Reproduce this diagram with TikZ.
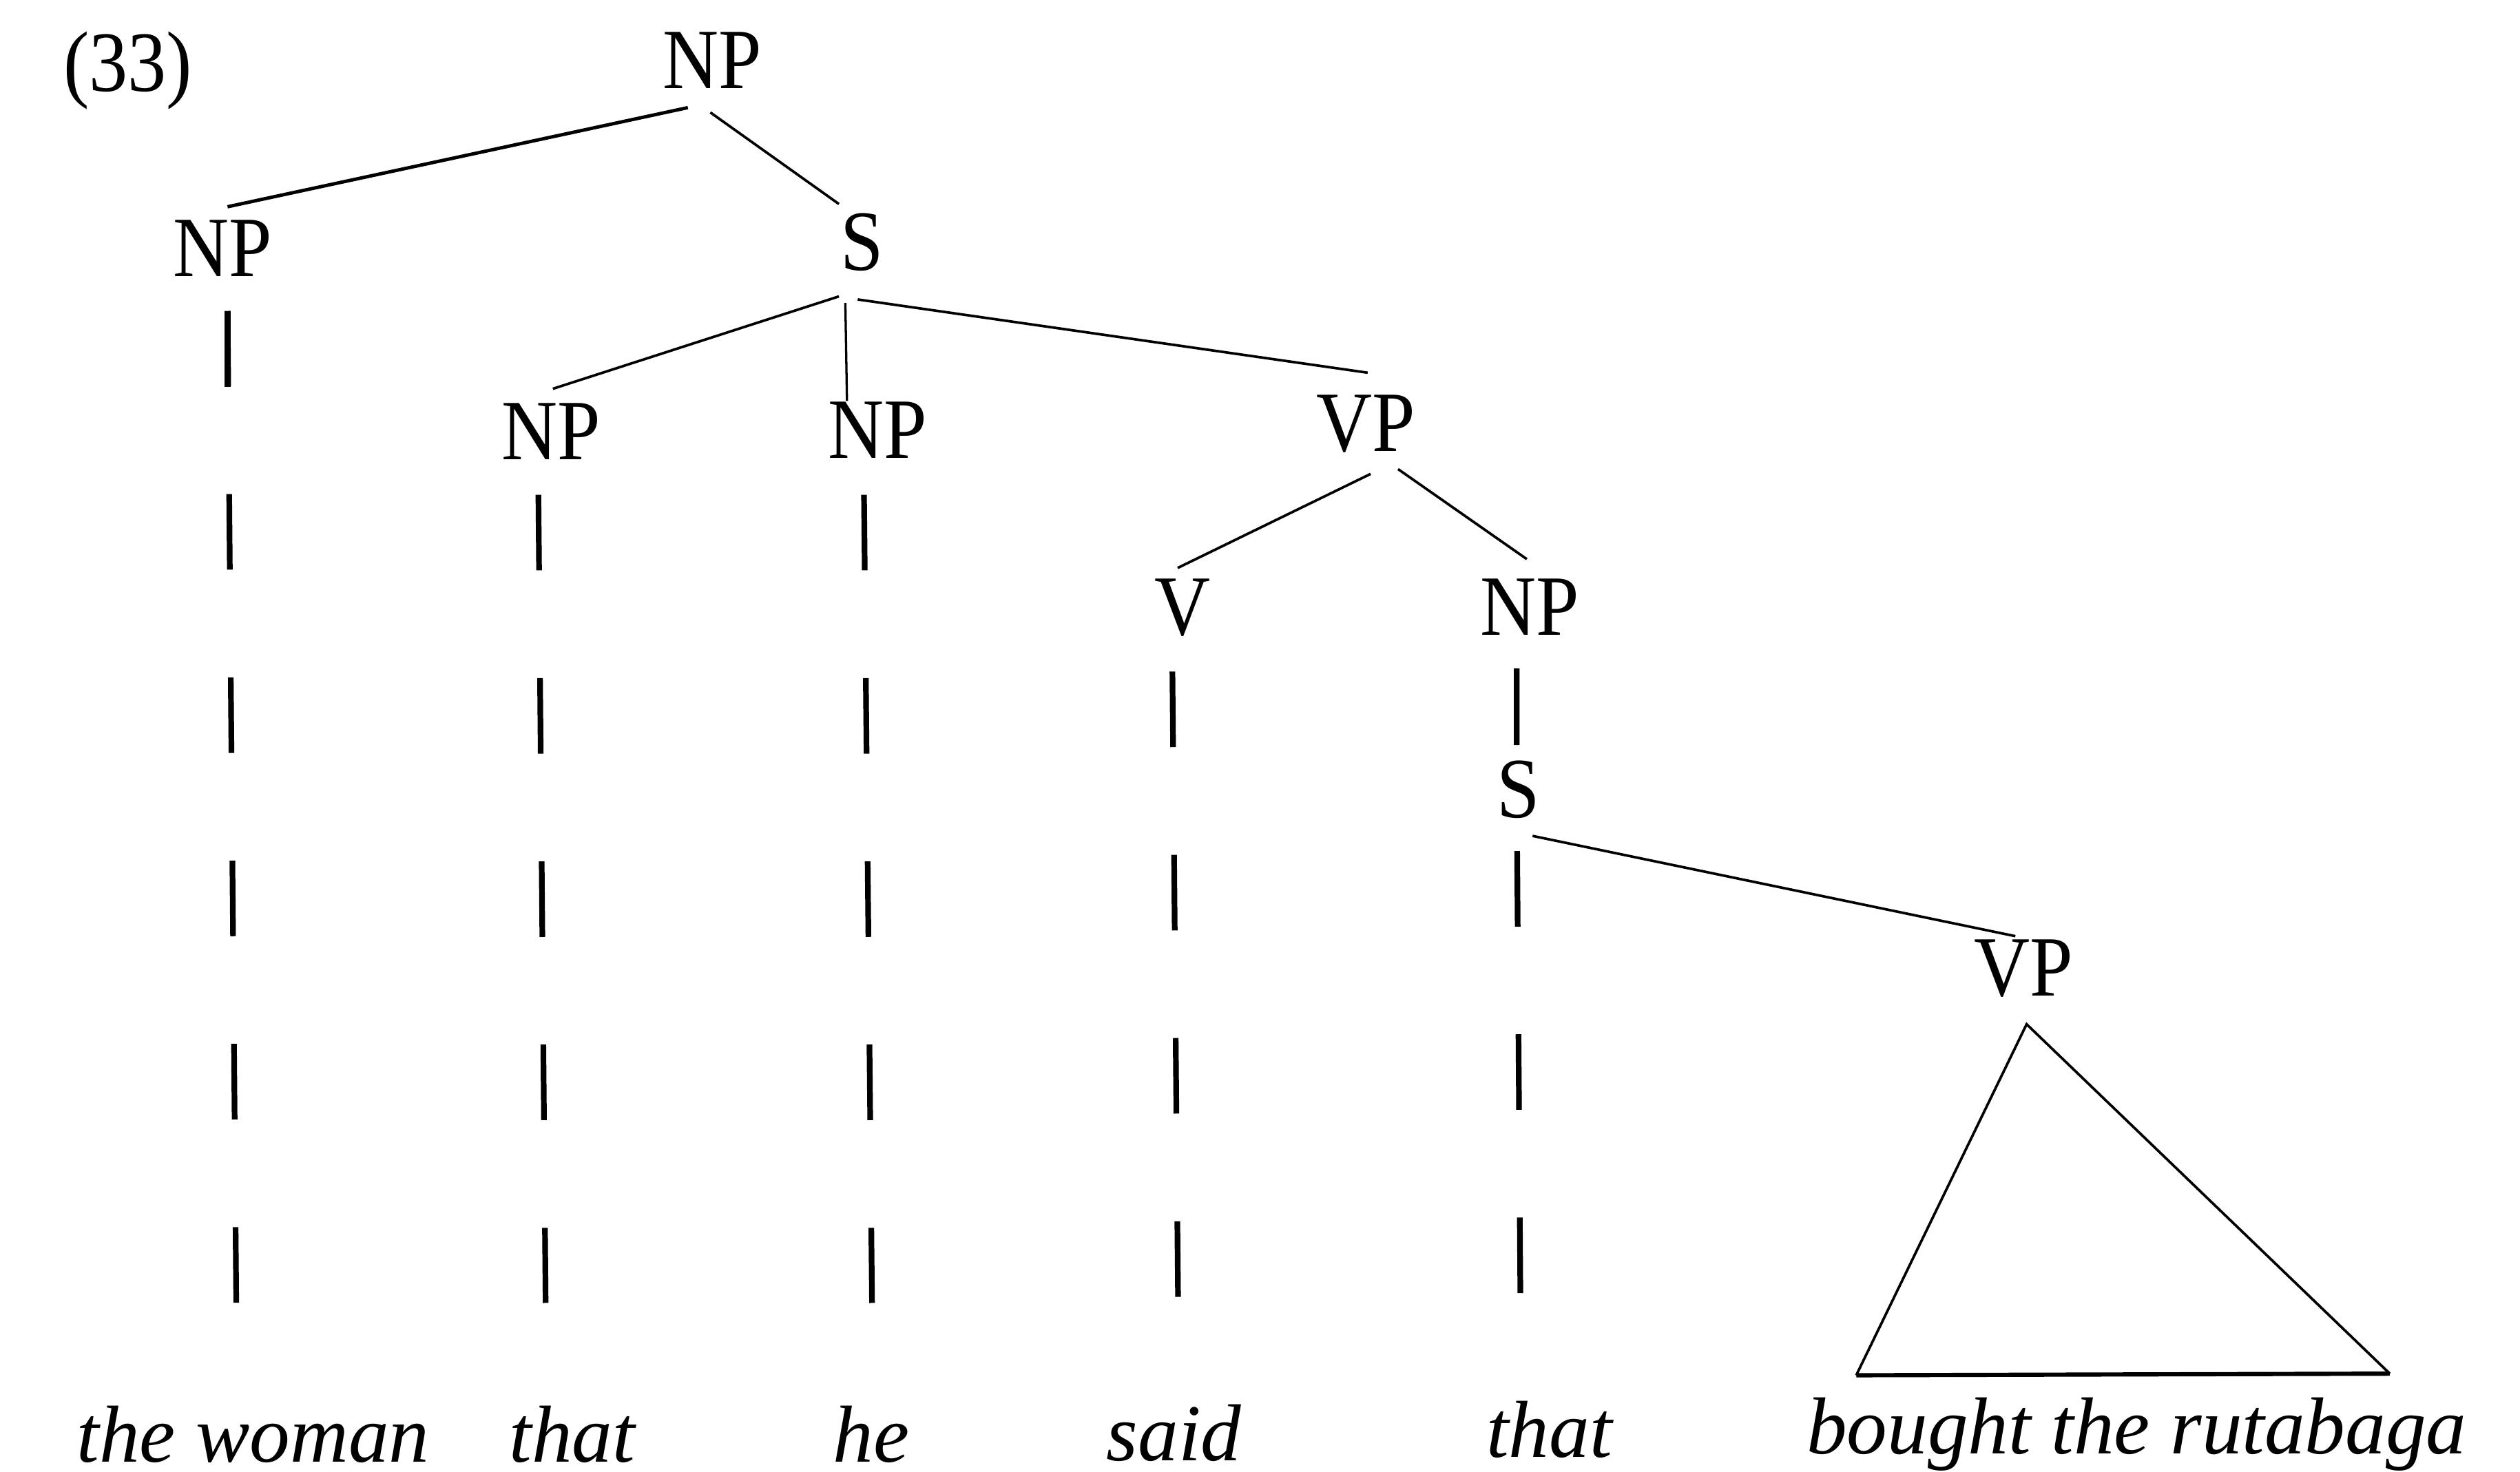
\documentclass[tikz,border=0pt]{standalone}
\usepackage{fontspec}
\setmainfont{Liberation Serif}
\usepackage{graphicx}
\usetikzlibrary{calc}
% slightly condensed category labels
\newcommand{\sqz}[1]{\scalebox{0.9}[1]{#1}}
\tikzset{
  cat/.style={inner sep=0pt, anchor=base, font=\fontsize{15.2}{18}\selectfont},
  word/.style={inner sep=0pt, anchor=base, font=\fontsize{14.3}{17}\selectfont\itshape},
  branch/.style={line width=0.45pt},
  stem/.style={line width=1pt},
  trace/.style={line width=1pt, dash pattern=on 0.47cm off 0.67cm},
}
\begin{document}
\begin{tikzpicture}[x=0.01cm, y=-0.01cm]
\useasboundingbox (0,0) rectangle (1568,916);

% example number
\node[cat] (ex) at (79.5,57) {\sqz{(33)}};

% category labels
\node[cat] (np0) at (443,55)    {\sqz{NP}};
\node[cat] (np1) at (138.6,172) {\sqz{NP}};
\node[cat] (s0)  at (536.5,168) {\sqz{S}};
\node[cat] (np2) at (343,286)   {\sqz{NP}};
\node[cat] (np3) at (546,285)   {\sqz{NP}};
\node[cat] (vp0) at (850,281)   {\sqz{VP}};
\node[cat] (v0)  at (735.6,395.5) {\sqz{V}};
\node[cat] (np4) at (951.7,395.5) {\sqz{NP}};
\node[cat] (s1)  at (945,508.7) {\sqz{S}};
\node[cat] (vp1) at (1259,619.7) {\sqz{VP}};

% terminal string
\node[word] (w1) at (157.5,910) {the woman};
\node[word] (w2) at (356,910)   {that};
\node[word] (w3) at (542,910)   {he};
\node[word] (w4) at (730.5,909) {said};
\node[word] (w5) at (964,907)   {that};
\node[word] (w6) at (1329.5,905) {bought the rutabaga};

% branches
\draw[branch, line width=0.6pt] ($(np0.base)+(-15,12)$) -- ($(np1.base)+(3,-43.3)$);
\draw[branch] ($(np0.base)+(-1,15)$) -- ($(s0.base)+(-14.5,-41)$);
\draw[stem] ($(np1.base)+(3,21.5)$) -- ($(np1.base)+(3,69)$);
\draw[branch] ($(s0.base)+(-14.5,16.5)$) -- ($(np2.base)+(1,-44)$);
\draw[branch, line width=0.4pt] ($(s0.base)+(-10.5,20.6)$) -- ($(np3.base)+(-19,-35.4)$);
\draw[branch] ($(s0.base)+(-2.8,18.4)$) -- ($(vp0.base)+(1,-49)$);
\draw[branch] ($(vp0.base)+(2.8,14)$) -- ($(v0.base)+(-2.8,-42)$);
\draw[branch] ($(vp0.base)+(19.9,11)$) -- ($(np4.base)+(-1.7,-47.5)$);
\draw[stem] ($(np4.base)+(-8,20.5)$) -- ($(s1.base)+(-1.3,-45)$);
\draw[branch] ($(s1.base)+(8.6,11.6)$) -- ($(vp1.base)+(-5,-37)$);

% dashed association lines down to the words
\draw[trace] ($(np1.base)+(3,21.5)$) -- ($(w1.base)+(-10.5,-99)$);
\draw[trace] ($(np2.base)+(-8,22)$)  -- ($(w2.base)+(-16.5,-99)$);
\draw[trace] ($(np3.base)+(-8.4,23)$) -- ($(w3.base)+(0.6,-99)$);
\draw[trace] ($(v0.base)+(-6.1,22.5)$) -- ($(w4.base)+(2.5,-101)$);
\draw[trace] ($(s1.base)+(-1,21)$)   -- ($(w5.base)+(-18,-102)$);

% triangle over the unanalysed VP
\coordinate (apex) at ($(vp1.base)+(2,17.8)$);
\coordinate (tl) at (1155,856);
\coordinate (tr) at (1487,855);
\draw[branch] (tl) -- (apex) -- (tr);
\draw[line width=0.75pt] (tl) -- (tr);
\end{tikzpicture}
\end{document}
